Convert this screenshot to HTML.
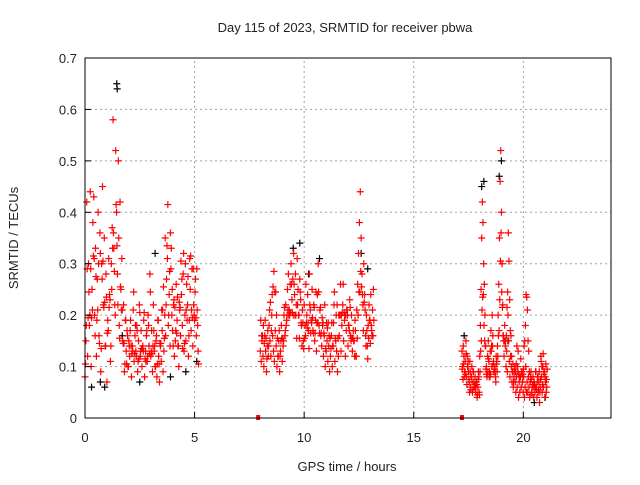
<!DOCTYPE html>
<html><head><meta charset="utf-8"><style>
body{margin:0;background:#fff;}
svg text{font-family:"Liberation Sans",sans-serif;font-size:13px;fill:#222;}
</style></head><body>
<svg id="chart" width="640" height="480" xmlns="http://www.w3.org/2000/svg">
<rect width="640" height="480" fill="#fff"/>
<text x="345" y="32" text-anchor="middle">Day 115 of 2023, SRMTID for receiver pbwa</text>
<text x="347" y="471" text-anchor="middle">GPS time / hours</text>
<text transform="translate(18,238) rotate(-90)" text-anchor="middle">SRMTID / TECUs</text>
<g id="grid"></g><g id="marks"></g><g id="axes"></g>
</svg>
<script>
const xTicks=[0,5,10,15,20];
const yTicks=[0,0.1,0.2,0.3,0.4,0.5,0.6,0.7];
const yTickLabels=["0","0.1","0.2","0.3","0.4","0.5","0.6","0.7"];
const segStarts=[0,8.0,17.2];
const segSteps=[0.04,0.04,0.03];
const redSeg1=[0.08,0.15,0.42,0.12,0.30,0.18,0.44,0.10,0.25,0.38,0.43,0.20,0.33,0.12,0.27,0.40,0.16,0.36,0.09,0.30,0.45,0.22,0.35,0.14,0.28,0.07,0.19,0.31,0.24,0.11,0.30,0.37,0.58,0.33,0.22,0.52,0.40,0.28,0.50,0.18,0.42,0.25,0.31,0.15,0.22,0.09,0.19,0.13,0.17,0.10,0.15,0.12,0.19,0.08,0.14,0.21,0.11,0.16,0.13,0.18,0.09,0.15,0.22,0.12,0.17,0.10,0.14,0.19,0.08,0.13,0.16,0.11,0.20,0.14,0.28,0.12,0.17,0.09,0.22,0.13,0.10,0.15,0.08,0.19,0.12,0.07,0.14,0.11,0.17,0.09,0.13,0.20,0.16,0.27,0.31,0.18,0.24,0.14,0.29,0.20,0.17,0.22,0.12,0.15,0.26,0.19,0.14,0.10,0.21,0.16,0.24,0.18,0.28,0.13,0.20,0.15,0.26,0.22,0.12,0.19,0.25,0.17,0.29,0.14,0.22,0.19,0.27,0.16,0.21,0.13];
const redSeg2=[0.13,0.11,0.15,0.12,0.10,0.16,0.13,0.09,0.14,0.12,0.18,0.15,0.12,0.20,0.16,0.13,0.11,0.17,0.14,0.10,0.12,0.15,0.09,0.13,0.18,0.11,0.14,0.20,0.16,0.22,0.19,0.25,0.28,0.21,0.26,0.30,0.23,0.27,0.32,0.24,0.28,0.22,0.31,0.25,0.20,0.27,0.23,0.18,0.21,0.15,0.22,0.18,0.26,0.20,0.24,0.17,0.28,0.21,0.19,0.25,0.17,0.22,0.15,0.19,0.13,0.24,0.30,0.18,0.21,0.16,0.14,0.18,0.12,0.16,0.10,0.13,0.15,0.11,0.14,0.09,0.12,0.16,0.10,0.14,0.22,0.11,0.15,0.13,0.09,0.12,0.16,0.20,0.13,0.18,0.22,0.15,0.19,0.12,0.17,0.21,0.14,0.18,0.23,0.16,0.20,0.13,0.17,0.15,0.19,0.12,0.21,0.26,0.32,0.38,0.44,0.35,0.28,0.22,0.30,0.24,0.16,0.20,0.14,0.18,0.22,0.19,0.24,0.17,0.21,0.25];
const redSeg3=[0.13,0.10,0.14,0.12,0.09,0.11,0.15,0.08,0.12,0.10,0.09,0.07,0.11,0.06,0.08,0.10,0.05,0.09,0.07,0.06,0.08,0.05,0.07,0.04,0.06,0.09,0.05,0.12,0.18,0.25,0.35,0.42,0.38,0.30,0.26,0.20,0.14,0.10,0.08,0.12,0.15,0.11,0.09,0.13,0.17,0.14,0.20,0.16,0.11,0.09,0.10,0.08,0.12,0.11,0.14,0.20,0.26,0.35,0.46,0.52,0.40,0.30,0.22,0.16,0.12,0.18,0.14,0.10,0.13,0.09,0.20,0.15,0.11,0.08,0.12,0.10,0.07,0.09,0.06,0.08,0.10,0.07,0.05,0.08,0.06,0.09,0.04,0.07,0.05,0.08,0.06,0.09,0.07,0.05,0.08,0.04,0.06,0.10,0.05,0.07,0.05,0.08,0.06,0.04,0.07,0.09,0.05,0.06,0.08,0.04,0.07,0.05,0.09,0.06,0.04,0.08,0.05,0.07,0.03,0.06,0.12,0.08,0.05,0.10,0.06,0.09,0.04,0.07,0.05,0.06];
const blackTimes=[1.45,1.47,0.3,0.9,1.7,2.5,3.2,4.6,5.1,9.5,9.8,10.2,10.7,12.6,12.9,17.3,18.1,18.2,18.9,19.0,19.3,20.5,21.0,0.7,3.9];
const blackValues=[0.65,0.64,0.06,0.06,0.16,0.07,0.32,0.09,0.11,0.33,0.34,0.28,0.31,0.32,0.29,0.16,0.45,0.46,0.47,0.50,0.15,0.03,0.04,0.07,0.08];
const zeroTimes=[7.9,17.2];
const zeroValues=[0,0];

const NS="http://www.w3.org/2000/svg";
const X0=85,X1=611,Y0=418,Y1=58;
const xs=t=>X0+(t/24)*(X1-X0);
const ys=v=>Y0-(v/0.7)*(Y0-Y1);
function mk(tag,attrs,parent){const e=document.createElementNS(NS,tag);for(const k in attrs)e.setAttribute(k,attrs[k]);parent.appendChild(e);return e;}
const grid=document.getElementById('grid'),marks=document.getElementById('marks'),axes=document.getElementById('axes');
xTicks.forEach(t=>{
 if(t>0){const g=mk('line',{x1:xs(t),x2:xs(t),y1:Y0,y2:Y1,stroke:'#a0a0a0','stroke-dasharray':'2,3'},grid);
 
 }
 const tk=mk('line',{x1:xs(t),x2:xs(t),y1:Y0,y2:Y0-6,stroke:'#000'},axes);
 
 
 const l=mk('text',{x:xs(t),y:Y0+24,'text-anchor':'middle'},axes);l.textContent=t;
 
 
});
yTicks.forEach((v,i)=>{
 if(v>0&&v<0.7){const g=mk('line',{x1:X0,x2:X1,y1:ys(v),y2:ys(v),stroke:'#a0a0a0','stroke-dasharray':'2,3'},grid);
 
 }
 const tk=mk('line',{x1:X0,x2:X0+6,y1:ys(v),y2:ys(v),stroke:'#000'},axes);
 
 
 const l=mk('text',{x:X0-8,y:ys(v)+5,'text-anchor':'end'},axes);l.textContent=yTickLabels[i];
 
 
});
const fr=mk('rect',{x:X0,y:Y1,width:X1-X0,height:Y0-Y1,fill:'none',stroke:'#000'},axes);


function plus(t,v,c,name){
 const x=xs(t),y=ys(v);
 const p=mk('path',{d:`M${x-3.5},${y}h7M${x},${y-3.5}v7`,stroke:c,'stroke-width':1.2,fill:'none'},marks);
 
 
}
blackTimes.forEach((t,i)=>plus(t,blackValues[i],'#000','black-point'));
[redSeg1,redSeg2,redSeg3].forEach((arr,s)=>{
 arr.forEach((v,i)=>{
  plus(segStarts[s]+i*segSteps[s],v,'#f00','red-point');
  plus(segStarts[s]+(i+0.5)*segSteps[s],arr[arr.length-1-i]*0.5+v*0.5,'#f00','red-point');
 });
});
zeroTimes.forEach((t,i)=>{
 const r=mk('rect',{x:xs(t)-2,y:ys(zeroValues[i])-3,width:4,height:5,fill:'#f00'},marks);
 
 
});
</script>
</body></html>
